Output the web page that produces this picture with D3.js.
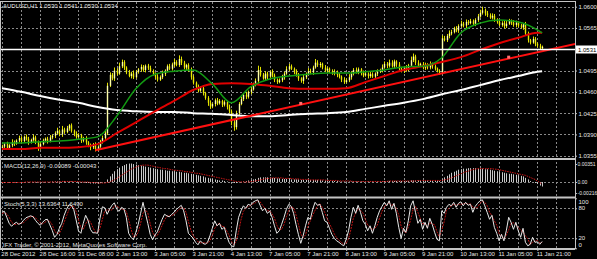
<!DOCTYPE html>
<html>
<head>
<meta charset="utf-8">
<script src="https://cdn.jsdelivr.net/npm/d3@7"></script>
<style>
html, body { margin: 0; padding: 0; background: #000; }
svg { display: block; }
text { font-family: "Liberation Sans", Arial, sans-serif; font-size: 6px; fill: #e6e6e6; }
</style>
</head>
<body>
<div id="chart"></div>
<script>
// AUDUSD H1 closes, one per bar (open = previous close)
const closes = [
  1.0370,1.0374,1.0368,1.0372,1.0377,1.0375,
  1.0380,1.0384,1.0379,1.0386,1.0383,1.0377,1.0381,1.0385,
  1.0378,1.0368,1.0374,1.0380,1.0383,1.0379,1.0385,1.0388,
  1.0392,1.0396,1.0390,1.0398,1.0394,
  1.0400,1.0405,1.0396,1.0391,
  1.0386,1.0389,1.0380,1.0383,
  1.0377,1.0372,1.0369,1.0374,1.0366,1.0370,1.0378,
  1.0384,1.0392,
  1.0470,1.0488,
  1.0482,1.0495,1.0490,1.0502,1.0509,1.0500,
  1.0492,1.0486,1.0490,1.0484,1.0493,1.0497,
  1.0501,1.0496,1.0503,1.0499,1.0494,1.0490,
  1.0485,1.0480,1.0484,1.0490,
  1.0495,1.0502,1.0498,1.0505,1.0509,1.0504,1.0514,
  1.0508,1.0500,1.0504,1.0496,
  1.0484,1.0475,1.0468,1.0462,
  1.0466,1.0458,
  1.0450,1.0442,1.0436,1.0440,
  1.0446,1.0441,1.0445,1.0439,1.0443,
  1.0435,1.0428,
  1.0410,1.0402,
  1.0425,1.0440,
  1.0448,1.0455,1.0452,1.0460,
  1.0464,1.0472,1.0478,
  1.0496,1.0488,
  1.0482,1.0490,1.0485,1.0493,1.0487,
  1.0480,1.0476,1.0479,1.0484,
  1.0490,1.0497,1.0502,1.0498,1.0493,
  1.0488,1.0482,1.0478,1.0484,
  1.0489,1.0494,1.0492,1.0500,1.0508,1.0504,
  1.0506,1.0500,1.0495,1.0498,
  1.0494,1.0490,1.0493,1.0488,1.0485,
  1.0480,1.0476,1.0479,1.0484,
  1.0490,1.0496,1.0492,1.0497,
  1.0491,1.0487,1.0490,1.0486,1.0489,
  1.0485,1.0490,1.0493,1.0495,
  1.0500,1.0506,1.0503,1.0508,
  1.0502,1.0510,1.0505,1.0498,
  1.0494,1.0500,1.0497,1.0503,
  1.0512,1.0518,
  1.0508,1.0503,1.0506,1.0500,
  1.0504,1.0500,1.0506,1.0502,1.0498,
  1.0494,1.0492,
  1.0548,
  1.0545,1.0552,1.0556,
  1.0558,1.0564,1.0561,1.0568,
  1.0572,1.0569,1.0575,1.0573,
  1.0576,1.0572,1.0578,
  1.0584,1.0590,1.0594,1.0589,
  1.0586,1.0582,1.0585,1.0579,
  1.0575,1.0570,1.0573,1.0568,
  1.0572,1.0577,1.0574,1.0570,
  1.0574,1.0569,1.0566,1.0571,
  1.0556,1.0545,
  1.0541,1.0547,1.0539,
  1.0536,1.0532,1.0534
];
const firstOpen = 1.0368;

// wick lengths above / below the body, in pips
const wickUp = [
  3,2,4,2,5,3,2,4,3,2, 4,3,2,5,3,2,4,3,2,3, 4,2,3,5,2,6,3,4,2,3, 2,4,3,2,3,4,2,3,2,3,
  2,3,4,6,5,4,3,5,4,6, 4,3,2,4,3,5,3,2,4,3, 2,3,4,3,2,4,3,5,2,3, 4,3,5,3,6,4,3,2,3,4,
  3,2,4,3,5,2,3,4,2,3, 4,3,2,3,2,4,3,5,4,3, 4,3,5,2,4,3,4,7,5,3, 4,3,2,4,3,2,3,4,3,5,
  4,3,2,4,3,2,4,3,5,4, 3,6,4,3,2,4,3,2,3,4, 2,3,2,4,3,5,4,3,4,3, 2,4,3,2,4,3,2,4,3,5,
  4,3,5,4,3,2,4,3,2,4, 3,6,5,3,4,2,3,4,3,4, 2,3,2,3,5,4,3,5,4,3, 4,3,5,3,4,3,4,3,3,4,
  5,6,3,4,3,4,3,2,4,3, 4,5,3,2,4,3,2,3,2,4, 3,2,4,3,2,3,2
];
const wickDn = [
  2,4,3,2,3,4,2,3,4,2, 3,4,2,3,4,5,3,2,3,4, 2,3,4,2,3,4,3,2,4,3, 4,3,2,4,3,4,3,5,3,4,
  3,2,3,4,3,2,3,4,3,2, 3,4,3,2,4,3,2,3,4,3, 4,3,2,3,4,3,2,3,4,3, 2,3,4,2,3,4,3,4,3,4,
  3,4,3,2,4,3,5,4,3,4, 3,2,4,3,4,3,5,6,4,3, 2,3,4,3,4,2,3,4,3,2, 3,4,2,3,4,3,2,3,4,2,
  3,2,4,3,4,3,5,3,2,3, 4,2,3,4,3,2,4,3,2,3, 4,3,4,3,2,3,4,3,2,3, 4,3,2,4,3,2,3,4,2,3,
  2,4,3,2,3,4,3,2,3,4, 3,2,3,4,3,2,3,4,3,3, 4,3,2,4,3,2,3,4,3,2, 3,4,2,3,4,3,2,3,4,3,
  2,3,4,3,2,3,4,3,2,3, 4,3,2,4,3,4,3,2,4,3, 4,3,2,4,3,2,3
];

// moving averages, sampled every 8 bars
const maBars = [0,8,16,24,32,40,48,56,64,72,80,88,96,104,112,120,128,136,144,152,160,168,176,184,192,200,208,216,224,226];
const greenMA = [1.0376,1.0376,1.0378,1.0379,1.0382,1.0386,1.0420,1.0465,1.0489,1.0494,1.0496,1.0473,1.0442,1.0468,1.0481,
                 1.0486,1.0489,1.0491,1.0491,1.0493,1.0496,1.0501,1.0502,1.0516,1.0557,1.0573,1.0578,1.0575,1.0562,1.0557];
const redMA = [1.0366,1.0366,1.0368,1.0368,1.0369,1.0374,1.0392,1.0410,1.0428,1.0445,1.0463,1.0473,1.0474,1.0473,1.0470,
               1.0466,1.0465,1.0465,1.0466,1.0476,1.0486,1.0496,1.0502,1.0509,1.0517,1.0529,1.0540,1.0549,1.0557,1.0557];
const whiteMA = [1.0466,1.0460,1.0453,1.0447,1.0442,1.0435,1.0430,1.0428,1.0427,1.0427,1.0425,1.0424,1.0422,1.0420,1.0420,
                 1.0422,1.0424,1.0425,1.0427,1.0432,1.0437,1.0442,1.0448,1.0456,1.0463,1.0471,1.0479,1.0486,1.0493,1.0494];

// trendline and its anchor dots
const trendBars = [39, 240];
const trendPrices = [1.0364, 1.0539];
const markerBars = [125, 212];
const markerPrices = [1.0441, 1.0517];
const bidPrice = 1.0531;

// MACD(12,26,9), in units of 0.0001
const macdMain = [
  -2,-2,-2,-1,-1,-1,0,0,0,0, 0,0,0,0,-1,-1,-1,-1,0,0, 0,1,1,1,1,2,2,2,1,1, 0,0,-1,-1,-1,-2,-2,-3,-3,-3,
  -3,-2,-1,0, 5,11,16,21,25,28,31,33,35,
  36,36,35,34,33,32,31,30,29,28, 27,26,25,24,24,23,22,22,21,21, 20,20,19,18,18,17,16,15,14,13,
  12,11,9,8,7,6,5,4,3,3, 2,1,0,-1,-2,-2,-1,0,
  1,2,3,4,5,6,8,9,9,9, 9,9,8,8,7,7,6,6,6,6, 5,5,5,5,4,4,4,4,4,4, 4,4,4,3,3,3,2,2,2,2,
  1,1,1,1,1,1,1,1,1,1, 1,1,1,1,1,1,1,1,2,2, 2,2,2,2,2,2,2,2,2,2, 3,3,3,3,3,3,3,3,3,2, 2,2,2,
  6,9,12,15,18,20,22,24,25,26, 26,27,27,27,27,26,26,26,25,25, 24,23,22,21,20,19,18,17,16,16,
  15,14,13,12,11, 8,5,2,0,-2,-4,-7,-8.9
];
const macdSignal = [
  -1,-1,-1,-1,-1,-1,-1,-1,-1,-1, 0,0,0,0,0,0,0,0,0,0, 0,0,0,0,0,1,1,1,1,1, 1,1,1,0,0,0,0,-1,-1,-1,
  -2,-2,-2,-2, -1,0,2,4,7,10,13,16,19,
  22,25,27,29,31,32,33,33,33,32, 31,30,29,28,27,26,26,25,24,23, 23,22,22,21,20,20,19,18,17,17,
  16,15,14,13,12,11,10,9,8,7, 6,5,4,3,2,1,1,0,
  0,0,0,1,1,2,3,4,5,6, 7,7,8,8,8,8,8,7,7,7, 7,6,6,6,5,5,5,5,4,4, 4,4,4,4,4,3,3,3,3,3,
  2,2,2,2,2,2,1,1,1,1, 1,1,1,1,1,1,1,1,1,1, 1,2,2,2,2,2,2,2,2,2, 2,2,2,3,3,3,3,3,3,3, 3,3,3,
  3,4,5,6,8,10,12,14,16,18, 20,21,23,24,25,26,26,26,26,26, 26,26,25,25,24,23,22,21,20,19,
  18,17,16,15,14, 13,11,9,7,5,2,-1,-4.3
];

// Stochastic(5,3,3)
const stochK = [
  72,74,62,50,44,49,52,48,50,56, 61,63,65,63,56,50,46,52,57,58, 47,36,22,28,40,50,66,78,87,86,
  78,57,35,30,50,66,56,38,31,31, 30,60,83,81,68,78,86,91,78,74, 82,79,62,30,22,17,32,48,70,92,
  70,50,28,17,27,33,46,58,68,65, 63,68,72,78,82,86,75,55,30,25, 20,12,7,15,10,8,12,25,40,55,
  45,50,38,42,25,12,5,3,35,62, 75,85,80,88,86,92,95,97,86,75, 80,70,74,62,45,30,35,48,62,78,
  88,84,70,48,28,10,25,45,62,58, 78,92,86,88,72,55,52,40,28,20, 15,12,8,5,18,35,62,82,70,86,
  72,55,48,35,45,30,45,62,75,84, 92,85,95,78,90,70,42,20,40,32, 55,85,95,72,50,58,38,52,40,60,
  48,32,18,15,75,70,82,88,85,92, 82,90,93,85,92,86,88,72,84,90, 95,97,85,72,58,66,42,30,15,28,
  15,35,62,52,38,52,35,22,40,12, 5,8,22,12,13,8,13.6
];
const stochD = [
  70,71,69,62,52,48,48,50,50,51, 56,60,63,64,61,56,51,49,52,56, 54,47,35,29,30,39,52,65,77,84,
  84,74,57,41,38,49,57,53,42,33, 31,40,58,75,77,76,77,85,85,81, 78,78,74,57,38,23,24,32,50,70,
  77,71,49,32,24,26,35,46,57,64, 65,65,68,73,77,82,81,72,53,37, 25,19,13,11,11,11,10,15,26,40,
  47,50,44,43,35,26,14,7,14,33, 57,74,80,84,85,89,91,95,93,86, 80,75,75,69,60,46,37,38,48,63,
  76,83,81,67,49,29,21,27,44,55, 66,76,85,89,82,72,60,49,40,29, 21,16,12,8,10,19,38,60,71,79,
  76,71,58,46,43,37,40,46,61,74, 84,87,91,86,88,79,67,44,34,31, 42,57,78,84,72,60,49,49,43,51,
  49,47,33,22,36,53,76,80,85,88, 86,88,88,89,90,88,89,82,81,82, 90,94,92,85,72,65,55,46,29,24,
  19,26,37,50,51,47,42,36,32,25, 19,8,12,14,16,11,11.649
];

// axes
const priceTicks = [1.0600, 1.0565, 1.0530, 1.0495, 1.0460, 1.0425, 1.0390, 1.0355];
const macdTicks = [0.00351, 0, -0.00216];
const macdTickLabels = ["0.00351", "0.00", "-0.00216"];
const stochTicks = [100, 80, 20, 0];
const timeBars = [0,16,32,48,64,80,96,112,128,144,160,176,192,208,224];
const timeLabels = ["28 Dec 2012","28 Dec 16:00","31 Dec 08:00","2 Jan 13:00","3 Jan 05:00","3 Jan 21:00",
  "4 Jan 13:00","7 Jan 05:00","7 Jan 21:00","8 Jan 13:00","9 Jan 05:00","9 Jan 21:00",
  "10 Jan 13:00","11 Jan 05:00","11 Jan 21:00"];

const W = 597, H = 259, R = 575;
const svg = d3.select("#chart").append("svg").attr("width", W).attr("height", H);
svg.append("rect").attr("width", W).attr("height", H).attr("fill", "#000");

const xScale = d3.scaleLinear().domain([0, 240]).range([2, 575.6]);
const yPrice = d3.scaleLinear().domain([1.03496, 1.06077]).range([159, 2]);
const yMacd = d3.scaleLinear().domain([-0.00293, 0.00449]).range([197, 159]);
const yStoch = d3.scaleLinear().domain([0, 100]).range([248.3, 198.3]);
const px = i => Math.round(xScale(i)) + 0.5;

// clip regions for each pane
const defs = svg.append("defs");
[["clipMain", 2, 159], ["clipMacd", 160, 197], ["clipStoch", 198, 249]].forEach(c => {
    defs.append("clipPath").attr("id", c[0]).append("rect")
        .attr("x", 0).attr("y", c[1]).attr("width", R).attr("height", c[2] - c[1]);
});

// grid
const grid = svg.append("g").attr("stroke", "#8a8a8a").attr("stroke-dasharray", "2,2").attr("stroke-width", 1);
d3.range(0, 240, 8).forEach(b => {
    grid.append("line").attr("x1", px(b)).attr("x2", px(b)).attr("y1", 2).attr("y2", 249);
});
priceTicks.forEach(p => {
    const y = Math.round(yPrice(p)) + 0.5;
    grid.append("line").attr("x1", 0).attr("x2", R).attr("y1", y).attr("y2", y);
});
[Math.round(yMacd(0)) + 0.5, Math.round(yStoch(80)) + 0.5, Math.round(yStoch(20)) + 0.5].forEach(y => {
    grid.append("line").attr("x1", 0).attr("x2", R).attr("y1", y).attr("y2", y);
});

// candles
const main = svg.append("g").attr("clip-path", "url(#clipMain)");
const candles = closes.map((c, i) => {
    const o = i === 0 ? firstOpen : closes[i - 1];
    return { i: i, o: o, c: c,
             h: Math.max(o, c) + wickUp[i] * 0.0001,
             l: Math.min(o, c) - wickDn[i] * 0.0001 };
});
main.selectAll(".wick").data(candles).enter().append("line")
    .attr("x1", d => px(d.i)).attr("x2", d => px(d.i))
    .attr("y1", d => yPrice(d.h)).attr("y2", d => yPrice(d.l))
    .attr("stroke", "#e0e000").attr("stroke-width", 1);
main.selectAll(".body").data(candles).enter().append("rect")
    .attr("x", d => px(d.i) - 0.7).attr("width", 1.4)
    .attr("y", d => yPrice(Math.max(d.o, d.c)))
    .attr("height", d => Math.max(0.8, Math.abs(yPrice(d.o) - yPrice(d.c))))
    .attr("fill", d => d.c >= d.o ? "#ffffa8" : "#eaea00");

// moving averages
const maLine = d3.line().x((d, k) => xScale(maBars[k])).y(d => yPrice(d)).curve(d3.curveMonotoneX);
main.append("path").datum(whiteMA).attr("d", maLine).attr("fill", "none").attr("stroke", "#ffffff").attr("stroke-width", 2);
main.append("path").datum(redMA).attr("d", maLine).attr("fill", "none").attr("stroke", "#e00000").attr("stroke-width", 2);
main.append("path").datum(greenMA).attr("d", maLine).attr("fill", "none").attr("stroke", "#129a12").attr("stroke-width", 1.5);

// trendline
main.append("line")
    .attr("x1", xScale(trendBars[0])).attr("y1", yPrice(trendPrices[0]))
    .attr("x2", xScale(trendBars[1])).attr("y2", yPrice(trendPrices[1]))
    .attr("stroke", "#ff1010").attr("stroke-width", 2);
main.selectAll(".marker").data(markerBars).enter().append("rect")
    .attr("x", d => xScale(d) - 1.5).attr("y", (d, k) => yPrice(markerPrices[k]) - 1.5)
    .attr("width", 3).attr("height", 3).attr("fill", "#ff7070");

// bid line
const yBid = Math.round(yPrice(bidPrice)) + 0.5;
svg.append("line").attr("x1", 0).attr("x2", R).attr("y1", yBid).attr("y2", yBid)
    .attr("stroke", "#ffffff").attr("stroke-width", 1.5);

// MACD pane
const macd = svg.append("g").attr("clip-path", "url(#clipMacd)");
macd.selectAll(".hist").data(macdMain).enter().append("line")
    .attr("x1", (d, i) => px(i)).attr("x2", (d, i) => px(i))
    .attr("y1", yMacd(0)).attr("y2", d => yMacd(d * 0.0001))
    .attr("stroke", "#c8c8c8").attr("stroke-width", 1);
macd.append("path").datum(macdSignal)
    .attr("d", d3.line().x((d, i) => xScale(i)).y(d => yMacd(d * 0.0001)))
    .attr("fill", "none").attr("stroke", "#d01818").attr("stroke-width", 1).attr("stroke-dasharray", "1.5,1");

// Stochastic pane
const stoch = svg.append("g").attr("clip-path", "url(#clipStoch)");
const stLine = d3.line().x((d, i) => xScale(i)).y(d => yStoch(d));
stoch.append("path").datum(stochD).attr("d", stLine)
    .attr("fill", "none").attr("stroke", "#c01414").attr("stroke-width", 1).attr("stroke-dasharray", "2,1");
stoch.append("path").datum(stochK).attr("d", stLine)
    .attr("fill", "none").attr("stroke", "#e8e8e8").attr("stroke-width", 1);

// frames and pane separators
const frame = svg.append("g").attr("stroke", "#c4c4c4").attr("fill", "none");
frame.append("line").attr("x1", 0.5).attr("x2", 0.5).attr("y1", 1).attr("y2", 249);
frame.append("line").attr("x1", R + 0.5).attr("x2", R + 0.5).attr("y1", 1).attr("y2", 249);
frame.append("line").attr("x1", 0).attr("x2", R).attr("y1", 1.5).attr("y2", 1.5);
[159, 197.5, 249].forEach(y => {
    frame.append("line").attr("x1", 0).attr("x2", R).attr("y1", y).attr("y2", y).attr("stroke-width", 1.8);
});

// right axes
const styleAxis = g => {
    g.select(".domain").remove();
    g.selectAll(".tick line").attr("stroke", "#c4c4c4");
};
svg.append("g").attr("transform", `translate(${R},0)`)
    .call(d3.axisRight(yPrice).tickValues(priceTicks).tickSize(2).tickPadding(1.5).tickFormat(d3.format(".4f")))
    .call(styleAxis)
    .selectAll(".tick").filter(d => d === 1.0530).select("text").remove();
svg.append("g").attr("transform", `translate(${R},0)`)
    .call(d3.axisRight(yMacd).tickValues(macdTicks).tickSize(2).tickPadding(0.5).tickFormat((d, k) => macdTickLabels[k]))
    .call(styleAxis)
    .selectAll(".tick text").style("font-size", "5px");
const stochDy = { 100: "0.95em", 80: "0.12em", 20: "0.2em", 0: "-0.22em" };
svg.append("g").attr("transform", `translate(${R},0)`)
    .call(d3.axisRight(yStoch).tickValues(stochTicks).tickSize(2).tickPadding(1.5))
    .call(styleAxis)
    .selectAll(".tick text").attr("dy", d => stochDy[d]);

// bid label
svg.append("rect").attr("x", R + 1).attr("y", yBid - 4).attr("width", W - R - 1).attr("height", 8).attr("fill", "#ffffff");
svg.append("text").attr("x", R + 3).attr("y", yBid + 2.2).text(bidPrice.toFixed(4)).style("fill", "#000");

// time axis
svg.append("g").attr("transform", "translate(0,249)")
    .call(d3.axisBottom(xScale).tickValues(timeBars).tickSize(2).tickPadding(1)
        .tickFormat((d, k) => timeLabels[k]))
    .call(styleAxis)
    .selectAll(".tick text").attr("text-anchor", "start").attr("dx", "-0.2em");

// titles
svg.append("text").attr("x", 3).attr("y", 8).text("AUDUSD,H1  1.0530 1.0541 1.0530 1.0534");
svg.append("text").attr("x", 4).attr("y", 168).text("MACD(12,26,9) -0.00089 -0.00043");
svg.append("text").attr("x", 4).attr("y", 206).text("Stoch(5,3,3) 13.6364 11.6490");
svg.append("text").attr("x", 3).attr("y", 247).text("IFX Trader, \u00a9 2001-2012, MetaQuotes Software Corp.");
</script>
</body>
</html>
